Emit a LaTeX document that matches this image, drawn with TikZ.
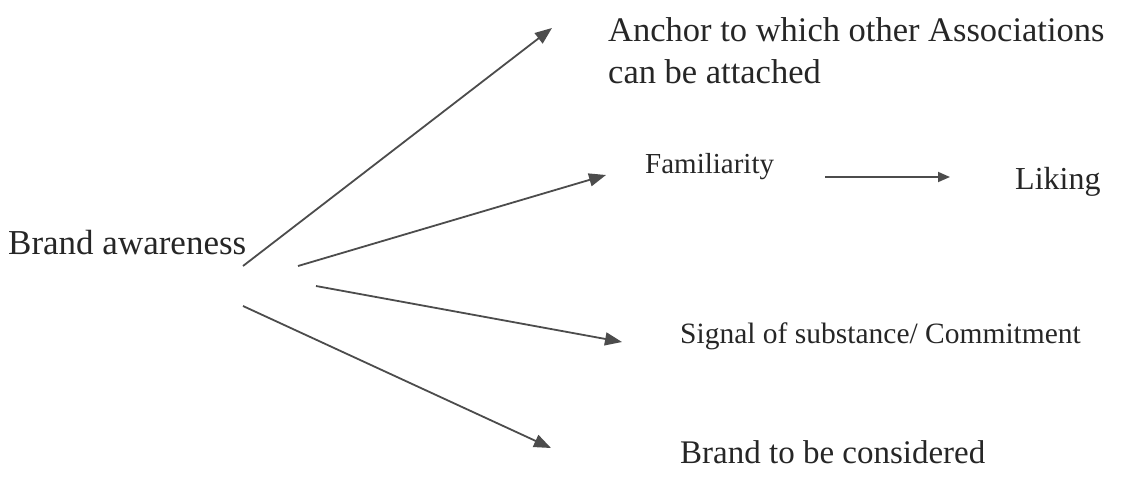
\documentclass[tikz,border=0pt]{standalone}
\usepackage{fontspec}
\setmainfont{Liberation Serif}
\usetikzlibrary{arrows.meta}
\tikzset{
  lbl/.style={anchor=west, inner sep=0pt, text=black!85, align=left},
  conn/.style={draw=black!70, line width=1.8pt, -{Triangle[length=17pt,width=13pt]}},
}
\begin{document}
\begin{tikzpicture}[x=1pt,y=-1pt]
\useasboundingbox (0,0) rectangle (1125,493);
% text nodes
\node[lbl, font=\fontsize{34.5}{42}\selectfont] (anchor) at (608,51) {Anchor to which other Associations\\can be attached};
\node[lbl, font=\fontsize{29}{34}\selectfont] (fam) at (645,167) {Familiarity};
\node[lbl, font=\fontsize{32}{38}\selectfont] (liking) at (1015,182) {Liking};
\node[lbl, font=\fontsize{35}{40}\selectfont] (brand) at (8,243) {Brand awareness};
\node[lbl, font=\fontsize{29.5}{34}\selectfont] (signal) at (680,336) {Signal of substance/ Commitment};
\node[lbl, font=\fontsize{33}{38}\selectfont] (consider) at (680,452) {Brand to be considered};
% connector ends
\coordinate (s1) at (243,266);
\coordinate (e1) at (552,28);
\coordinate (s2) at (298,266);
\coordinate (e2) at (606,175);
\coordinate (s3) at (316,286);
\coordinate (e3) at (622,342);
\coordinate (s4) at (243,306);
\coordinate (e4) at (551,448);
\coordinate (s5) at (825,177);
\coordinate (e5) at (950,177);
% connectors
\draw[conn] (s1) -- (e1);
\draw[conn] (s2) -- (e2);
\draw[conn] (s3) -- (e3);
\draw[conn] (s4) -- (e4);
\draw[conn, -{Triangle[length=12pt,width=10pt]}] (s5) -- (e5);
\end{tikzpicture}
\end{document}
